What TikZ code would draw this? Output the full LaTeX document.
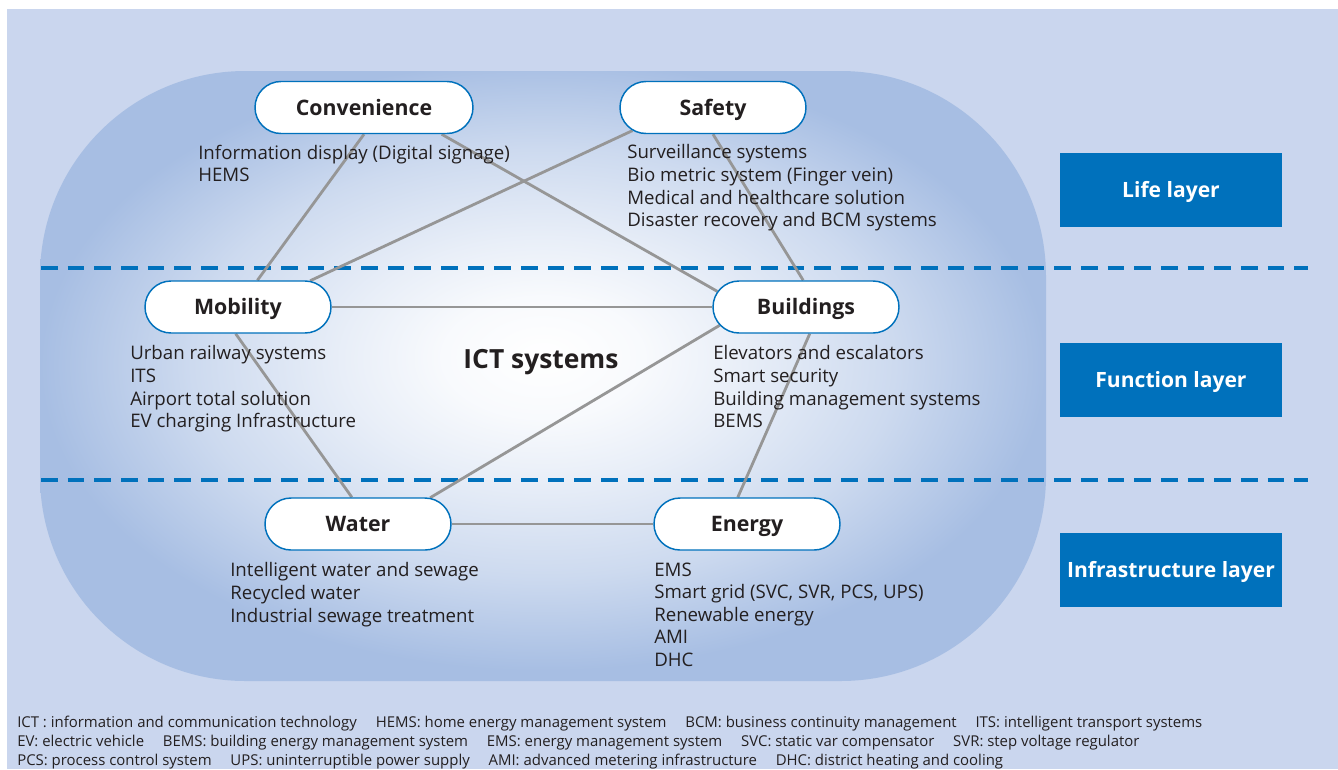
\documentclass[tikz,border=0pt]{standalone}
\usepackage{fontspec}
\setmainfont{Open Sans}
\usetikzlibrary{shapes.misc}

\definecolor{pagebg}{RGB}{202,214,238}
\definecolor{blobedge}{RGB}{167,190,227}
\definecolor{ictblue}{RGB}{0,113,188}
\definecolor{linkgray}{RGB}{150,150,150}
\definecolor{inktext}{RGB}{35,31,32}

%25bp is the border of the shaded path
\pgfdeclareradialshading{ictglow}{\pgfpoint{0bp}{1.7bp}}{color(0bp)=(white); color(5bp)=(blobedge!8!white); color(10bp)=(blobedge!26!white); color(17.5bp)=(blobedge!57!white); color(25bp)=(blobedge); color(50bp)=(blobedge)}

\pgfdeclarelayer{back}
\pgfdeclarelayer{links}
\pgfsetlayers{back,links,main}

\tikzset{
  field/.style={draw=ictblue, line width=1.1pt, fill=white, rounded rectangle,
    minimum width=139.5pt, minimum height=39pt, inner sep=0pt,
    text height=11.4pt, text depth=0pt,
    font=\fontsize{16}{19}\selectfont\bfseries, text=inktext},
  items/.style={anchor=north west, align=left, inner sep=0pt,
    font=\fontsize{14}{16.9}\selectfont, text=inktext},
  layerbox/.style={fill=ictblue, minimum width=166.5pt, minimum height=55.5pt,
    text height=11.3pt, text depth=0pt,
    font=\fontsize{15.8}{18}\selectfont\bfseries, text=white},
  link/.style={draw=linkgray, line width=2.1pt},
  sep/.style={draw=ictblue, line width=3pt, dash pattern=on 12.5pt off 7.5pt},
}

\begin{document}
\begin{tikzpicture}[x=0.75pt,y=-0.75pt]
  \useasboundingbox (0,0) rectangle (1338,769);

  \begin{pgfonlayer}{back}
    %page and rounded field
    \fill[pagebg] (7,9) rectangle (1338,769);
    \shade[shading=ictglow, rounded corners=154pt] (40,71) rectangle (1046,681);
    %layer borders
    \draw[sep] (41,268) -- (1308,268);
    \draw[sep] (41,480) -- (1308,480);
  \end{pgfonlayer}

  %life layer
  \node[field, minimum width=163.5pt] (conv) at (364,107.5) {Convenience};
  \node[field] (saf) at (713,107.5) {Safety};
  \node[items] (convlist) at (198,144.5) {Information display (Digital signage)\\HEMS};
  \node[items] (saflist) at (627,144.5) {Surveillance systems\\Bio metric system (Finger vein)\\Medical and healthcare solution\\Disaster recovery and BCM systems};

  %function layer
  \node[field] (mob) at (238,307) {Mobility};
  \node[field] (bld) at (806,307) {Buildings};
  \node[items] (moblist) at (130,345.5) {Urban railway systems\\ITS\\Airport total solution\\EV charging Infrastructure};
  \node[items] (bldlist) at (713,345.5) {Elevators and escalators\\Smart security\\Building management systems\\BEMS};
  \node[text height=14.1pt, text depth=0pt, font=\fontsize{19.8}{23}\selectfont\bfseries, text=inktext] (ict) at (541,359.5) {ICT systems};

  %infrastructure layer
  \node[field] (wat) at (358,524) {Water};
  \node[field] (ene) at (747,524) {Energy};
  \node[items] (watlist) at (230,562.5) {Intelligent water and sewage\\Recycled water\\Industrial sewage treatment};
  \node[items] (enelist) at (654,562.5) {EMS\\Smart grid (SVC, SVR, PCS, UPS)\\Renewable energy\\AMI\\DHC};

  %connections
  \begin{pgfonlayer}{links}
    \draw[link] (conv.south) -- (mob.54);
    \draw[link] (conv.341) -- (bld.170);
    \draw[link] (saf.196) -- (mob.20);
    \draw[link] (saf.south) -- (bld.96);
    \draw[link] (mob.east) -- (bld.west);
    \draw[link] (mob.265) -- (wat.103);
    \draw[link] (bld.192) -- (wat.20);
    \draw[link] (bld.278) -- (ene.109);
    \draw[link] (wat.east) -- (ene.west);
  \end{pgfonlayer}

  %layer labels
  \node[layerbox] (life) at (1171,190) {Life layer};
  \node[layerbox] (func) at (1171,380) {Function layer};
  \node[layerbox] (infra) at (1171,570) {Infrastructure layer};

  %abbreviations
  \node[anchor=north west, align=left, inner sep=0pt, font=\fontsize{11.2}{14.25}\selectfont, text=inktext] (notes) at (17,716)
    {ICT : information and communication technology\hspace{1em} HEMS: home energy management system\hspace{1em} BCM: business continuity management\hspace{1em} ITS: intelligent transport systems\\
     EV: electric vehicle\hspace{1em} BEMS: building energy management system\hspace{1em} EMS: energy management system\hspace{1em} SVC: static var compensator\hspace{1em} SVR: step voltage regulator\\
     PCS: process control system\hspace{1em} UPS: uninterruptible power supply\hspace{1em} AMI: advanced metering infrastructure\hspace{1em} DHC: district heating and cooling};
\end{tikzpicture}
\end{document}
